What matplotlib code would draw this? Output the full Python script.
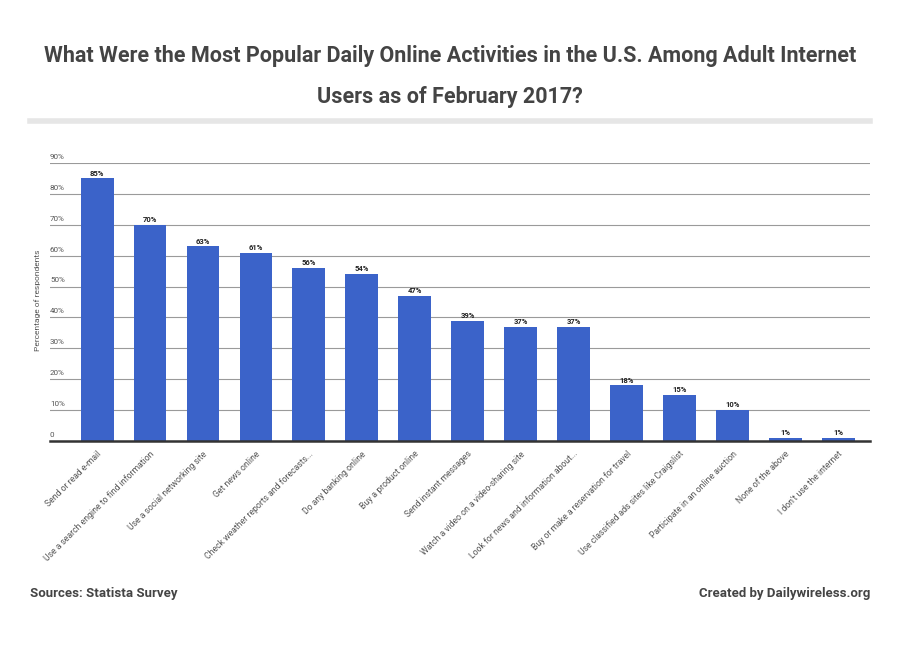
import matplotlib
matplotlib.use("Agg")
import matplotlib.pyplot as plt

categories = [
    "Send or read e-mail",
    "Use a search engine to find information",
    "Use a social networking site",
    "Get news online",
    "Check weather reports and forecasts...",
    "Do any banking online",
    "Buy a product online",
    "Send instant messages",
    "Watch a video on a video-sharing site",
    "Look for news and information about...",
    "Buy or make a reservation for travel",
    "Use classified ads sites like Craigslist",
    "Participate in an online auction",
    "None of the above",
    "I don't use the internet",
]
values = [85, 70, 63, 61, 56, 54, 47, 39, 37, 37, 18, 15, 10, 1, 1]
yticks = [0, 10, 20, 30, 40, 50, 60, 70, 80, 90]
ytick_labels = ["0", "10%", "20%", "30%", "40%", "50%", "60%", "70%", "80%", "90%"]

plt.rcParams['font.family'] = ['Roboto', 'DejaVu Sans']

W, H = 900, 664
fig = plt.figure(figsize=(9, 6.64), dpi=100)

def fx(px):
    return px / W

def fy(py):
    return 1 - py / H

# axes: left 50, right 870, top (90%) 163, bottom 441
ax = fig.add_axes([fx(50), fy(441), fx(870) - fx(50), fy(163) - fy(441)])
x = list(range(len(categories)))
ax.bar(x, values, width=0.62, color="#3b63c9", zorder=3)
ax.set_xlim(-0.89, 14.6)
ax.set_ylim(0, 90)

for xi, v in zip(x, values):
    ax.text(xi, v + 0.6, f"{v}%", ha="center", va="bottom", fontsize=5.5,
            fontweight="bold", color="#222222", zorder=4)

ax.set_yticks(yticks)
ax.set_yticklabels([])
ax.tick_params(axis="y", length=0)
for t, lab in zip(yticks, ytick_labels):
    ax.text(0.0, t + 1.0, lab, transform=ax.get_yaxis_transform(), ha="left",
            va="bottom", fontsize=5.8, color="#555555")
ax.grid(axis="y", color="#9a9a9a", linewidth=0.8, zorder=0)
for s in ["top", "right", "left"]:
    ax.spines[s].set_visible(False)
ax.spines["bottom"].set_color("#333333")
ax.spines["bottom"].set_linewidth(1.8)
ax.spines["bottom"].set_zorder(5)

ax.set_xticks(x)
ax.set_xticklabels(categories, rotation=45, ha="right", rotation_mode="anchor",
                   fontsize=6.2, color="#555555")
ax.tick_params(axis="x", length=0, pad=6)

fig.text(fx(38), fy(300), "Percentage of respondents", rotation=90,
         ha="center", va="center", fontsize=6, color="#555555")

fig.text(0.5, fy(56), "What Were the Most Popular Daily Online Activities in the U.S. Among Adult Internet",
         ha="center", va="center", fontsize=15.5, fontweight="bold", color="#444444")
fig.text(0.5, fy(97), "Users as of February 2017?",
         ha="center", va="center", fontsize=15.5, fontweight="bold", color="#444444")

fig.add_artist(plt.Line2D([fx(30), fx(870)], [fy(121), fy(121)], color="#e6e6e6",
                          linewidth=4, transform=fig.transFigure))

fig.text(fx(30), fy(593), "Sources: Statista Survey", ha="left", va="center",
         fontsize=9.5, fontweight="bold", color="#444444")
fig.text(fx(870), fy(593), "Created by Dailywireless.org", ha="right", va="center",
         fontsize=9.5, fontweight="bold", color="#444444")

fig.savefig("out.png", dpi=100, facecolor="white")
